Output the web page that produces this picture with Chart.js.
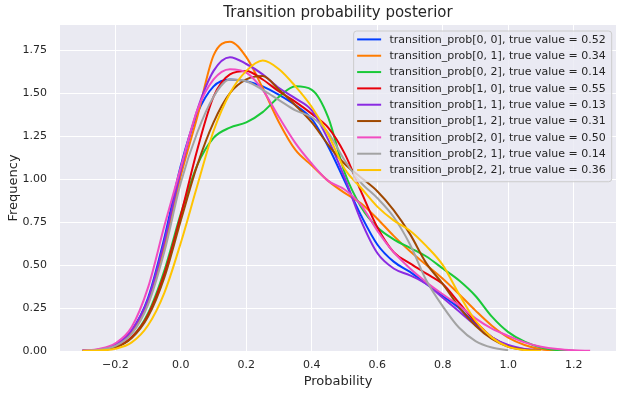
<!DOCTYPE html>
<html>
<head>
<meta charset="utf-8">
<script src="https://cdn.jsdelivr.net/npm/chart.js@4.4.1/dist/chart.umd.min.js"></script>
<style>
  body { margin: 0; background: #ffffff; }
  canvas { display: block; }
</style>
</head>
<body>
<canvas id="kdeChart" width="623" height="395"></canvas>
<script>
/* ======================================
   DATA
====================================== */
const xs = [-0.30, -0.25, -0.20, -0.15, -0.10, -0.05, 0.00, 0.05, 0.10, 0.15,
            0.20, 0.25, 0.30, 0.35, 0.40, 0.45, 0.50, 0.55, 0.60, 0.65,
            0.70, 0.75, 0.80, 0.85, 0.90, 0.95, 1.00, 1.05, 1.10, 1.15,
            1.20, 1.25];

const kde00 = [0.002, 0.008, 0.035, 0.12, 0.31, 0.66, 1.08, 1.38, 1.54, 1.58,
               1.57, 1.54, 1.49, 1.43, 1.35, 1.19, 0.99, 0.79, 0.62, 0.52,
               0.46, 0.39, 0.32, 0.25, 0.157, 0.08, 0.03, 0.008, 0.002, null,
               null, null];
const kde01 = [0.002, 0.007, 0.03, 0.11, 0.28, 0.61, 1.02, 1.36, 1.72, 1.80,
               1.71, 1.53, 1.33, 1.17, 1.08, 0.99, 0.92, 0.86, 0.77, 0.67,
               0.58, 0.50, 0.42, 0.33, 0.235, 0.147, 0.078, 0.035, 0.01, 0.002,
               null, null];
const kde02 = [0.001, 0.005, 0.022, 0.08, 0.22, 0.47, 0.80, 1.08, 1.24, 1.30,
               1.33, 1.39, 1.48, 1.54, 1.52, 1.36, 1.04, 0.84, 0.72, 0.65,
               0.60, 0.55, 0.48, 0.41, 0.32, 0.20, 0.11, 0.054, 0.02, 0.005,
               0.001, null];
const kde10 = [0.001, 0.005, 0.022, 0.08, 0.21, 0.45, 0.79, 1.17, 1.48, 1.61,
               1.63, 1.58, 1.51, 1.45, 1.38, 1.30, 1.15, 0.93, 0.72, 0.575,
               0.51, 0.45, 0.39, 0.28, 0.17, 0.08, 0.03, 0.01, 0.003, null,
               null, null];
const kde11 = [0.002, 0.008, 0.035, 0.12, 0.30, 0.64, 1.05, 1.40, 1.63, 1.71,
               1.67, 1.61, 1.53, 1.47, 1.40, 1.23, 1.01, 0.76, 0.57, 0.48,
               0.44, 0.39, 0.31, 0.23, 0.15, 0.08, 0.035, 0.012, 0.003, null,
               null, null];
const kde12 = [0.001, 0.005, 0.02, 0.075, 0.20, 0.43, 0.76, 1.08, 1.33, 1.50,
               1.58, 1.60, 1.52, 1.43, 1.33, 1.20, 1.09, 1.01, 0.93, 0.82,
               0.68, 0.51, 0.39, 0.255, 0.147, 0.07, 0.025, 0.008, 0.002, null,
               null, null];
const kde20 = [0.003, 0.012, 0.045, 0.14, 0.37, 0.73, 1.07, 1.40, 1.58, 1.64,
               1.62, 1.52, 1.36, 1.21, 1.09, 0.99, 0.94, 0.85, 0.70, 0.575,
               0.48, 0.40, 0.33, 0.265, 0.19, 0.13, 0.088, 0.05, 0.025, 0.011,
               0.004, 0.001];
const kde21 = [0.002, 0.007, 0.03, 0.10, 0.27, 0.58, 0.98, 1.27, 1.48, 1.58,
               1.57, 1.52, 1.46, 1.40, 1.36, 1.27, 1.11, 0.98, 0.89, 0.78,
               0.62, 0.41, 0.26, 0.135, 0.058, 0.02, 0.004, null, null, null,
               null, null];
const kde22 = [0.0, 0.003, 0.013, 0.05, 0.15, 0.34, 0.63, 0.96, 1.28, 1.50,
               1.63, 1.69, 1.64, 1.54, 1.42, 1.26, 1.06, 0.95, 0.84, 0.76,
               0.70, 0.61, 0.50, 0.33, 0.176, 0.078, 0.024, 0.006, 0.001, null,
               null, null];

const seriesLabels = [
    "transition_prob[0, 0], true value = 0.52",
    "transition_prob[0, 1], true value = 0.34",
    "transition_prob[0, 2], true value = 0.14",
    "transition_prob[1, 0], true value = 0.55",
    "transition_prob[1, 1], true value = 0.13",
    "transition_prob[1, 2], true value = 0.31",
    "transition_prob[2, 0], true value = 0.50",
    "transition_prob[2, 1], true value = 0.14",
    "transition_prob[2, 2], true value = 0.36"
];
const seriesValues = [kde00, kde01, kde02, kde10, kde11, kde12, kde20, kde21, kde22];

const xTicks = [-0.2, 0.0, 0.2, 0.4, 0.6, 0.8, 1.0, 1.2];
const yTicks = [0.00, 0.25, 0.50, 0.75, 1.00, 1.25, 1.50, 1.75];

// seaborn "bright" palette
const colors = ["#023eff", "#ff7c00", "#1ac938", "#e8000b", "#8b2be2",
                "#9f4800", "#f14cc1", "#a3a3a3", "#ffc400"];

const TEXT = "#262626";
Chart.defaults.font.family = "'DejaVu Sans', sans-serif";
Chart.defaults.color = TEXT;


/* ======================================
   PLOT BACKGROUND (seaborn darkgrid)
====================================== */
const plotBackground = {
    id: "plotBackground",
    beforeDraw(chart) {
        const { ctx, chartArea: a } = chart;
        ctx.save();
        ctx.fillStyle = "#eaeaf2";
        ctx.fillRect(a.left, a.top, a.right - a.left, a.bottom - a.top);
        ctx.restore();
    }
};


/* ======================================
   LEGEND INSIDE THE PLOT, TOP RIGHT
====================================== */
const innerLegend = {
    id: "innerLegend",
    afterDatasetsDraw(chart) {
        const { ctx, chartArea: a } = chart;
        const sets = chart.data.datasets;
        ctx.save();
        ctx.font = "11px 'DejaVu Sans'";
        let textW = 0;
        sets.forEach(ds => { textW = Math.max(textW, ctx.measureText(ds.label).width); });

        const rowH = 16.33;
        const w = 3.5 + 24 + 8.3 + textW + 6;
        const h = 8.4 + rowH * (sets.length - 1) + 11.7;
        const x0 = a.right - 4.3 - w;
        const y0 = a.top + 6;

        ctx.beginPath();
        ctx.roundRect(x0, y0, w, h, 3);
        ctx.fillStyle = "rgba(234,234,242,0.8)";
        ctx.fill();
        ctx.strokeStyle = "#cccccc";
        ctx.lineWidth = 1;
        ctx.stroke();

        ctx.textBaseline = "middle";
        ctx.textAlign = "left";
        sets.forEach((ds, i) => {
            const cy = y0 + 8.4 + i * rowH;
            ctx.beginPath();
            ctx.moveTo(x0 + 3.5, cy);
            ctx.lineTo(x0 + 27.5, cy);
            ctx.strokeStyle = ds.borderColor;
            ctx.lineWidth = 2;
            ctx.stroke();
            ctx.fillStyle = TEXT;
            ctx.fillText(ds.label, x0 + 35.8, cy + 0.5);
        });
        ctx.restore();
    }
};


/* ======================================
   CHART
====================================== */
const datasets = seriesValues.map((vals, i) => ({
    label: seriesLabels[i],
    data: xs.map((x, j) => ({ x: x, y: vals[j] })).filter(p => p.y !== null),
    borderColor: colors[i],
    backgroundColor: colors[i],
    borderWidth: 2,
    pointRadius: 0,
    fill: false,
    cubicInterpolationMode: "monotone",
    order: seriesValues.length - i   // later series drawn on top, as matplotlib does
}));

new Chart(document.getElementById("kdeChart").getContext("2d"), {
    type: "line",
    data: { datasets },
    options: {
        responsive: false,
        animation: false,
        devicePixelRatio: 1,
        layout: { padding: { left: 0, right: 7, top: 0, bottom: 0 } },
        plugins: {
            legend: { display: false },
            tooltip: { enabled: false },
            title: {
                display: true,
                text: "Transition probability posterior",
                fullSize: false,
                color: TEXT,
                font: { size: 15, weight: "normal" },
                padding: { top: 4, bottom: 3 }
            }
        },
        scales: {
            x: {
                type: "linear",
                min: -0.369,
                max: 1.329,
                afterFit: s => { s.height = 44; },
                afterBuildTicks: s => { s.ticks = xTicks.map(v => ({ value: v })); },
                ticks: {
                    autoSkip: false,
                    maxRotation: 0,
                    padding: 8,
                    color: TEXT,
                    font: { size: 11 },
                    callback: v => (v < 0 ? "\u2212" : "") + Math.abs(v).toFixed(1)
                },
                grid: { color: "#ffffff", lineWidth: 1, drawTicks: false },
                border: { display: false },
                title: {
                    display: true,
                    text: "Probability",
                    color: TEXT,
                    font: { size: 13 },
                    padding: { top: 0, bottom: 6 }
                }
            },
            y: {
                type: "linear",
                min: 0,
                max: 1.897,
                afterFit: s => { s.width = 60; },
                afterBuildTicks: s => { s.ticks = yTicks.map(v => ({ value: v })); },
                ticks: {
                    autoSkip: false,
                    padding: 13,
                    color: TEXT,
                    font: { size: 11 },
                    callback: v => v.toFixed(2)
                },
                grid: { color: "#ffffff", lineWidth: 1, drawTicks: false },
                border: { display: false },
                title: {
                    display: true,
                    text: "Frequency",
                    color: TEXT,
                    font: { size: 13 },
                    padding: { top: 6, bottom: 0 }
                }
            }
        }
    },
    plugins: [plotBackground, innerLegend]
});
</script>
</body>
</html>
